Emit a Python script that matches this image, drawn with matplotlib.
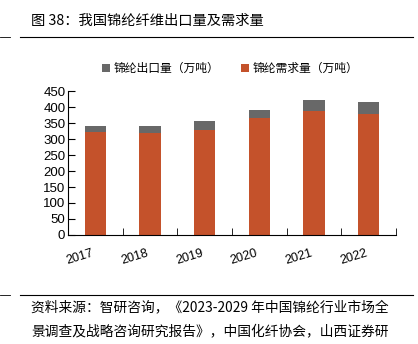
import matplotlib.pyplot as plt
import numpy as np

plt.rcParams['font.family'] = ['Liberation Sans', 'Noto Sans CJK SC', 'DejaVu Sans']

# data (万吨)
years = ["2017", "2018", "2019", "2020", "2021", "2022"]
demand = [323, 318, 330, 365, 388, 377]
export = [19, 22, 28, 25, 33, 38]

ORANGE = "#C4522B"
GRAY = "#686868"
cjk = ['Noto Sans CJK SC', 'DejaVu Sans']

fig = plt.figure(figsize=(4.18, 3.44), dpi=100)
ax = fig.add_axes([0.163, 0.317, 0.784, 0.418])

x = np.arange(len(years))
ax.bar(x, demand, width=0.39, color=ORANGE, label="锦纶需求量（万吨）", zorder=2)
ax.bar(x, export, width=0.39, bottom=demand, color=GRAY, label="锦纶出口量（万吨）", zorder=2)

ax.set_xlim(-0.5, len(years) - 0.5)
ax.set_ylim(0, 450)
ax.set_yticks(range(0, 451, 50))
ax.tick_params(axis='y', direction='in', length=5, labelsize=9.5, pad=2)
ax.set_xticks(x)
ax.set_xticklabels(years, rotation=17, fontsize=9, ha='right')
ax.tick_params(axis='x', length=0, pad=9)
ax.set_xticks(np.arange(-0.5, len(years)), minor=True)
ax.tick_params(axis='x', which='minor', direction='in', length=5)
for s in ["top", "right"]:
    ax.spines[s].set_visible(False)
ax.spines["left"].set_linewidth(0.8)
ax.spines["bottom"].set_linewidth(0.8)

h, l = ax.get_legend_handles_labels()
fig.legend(h[::-1], l[::-1], loc='center', bbox_to_anchor=(0.55, 0.80), ncol=2,
           frameon=False, prop={'family': cjk, 'size': 8.5},
           handlelength=0.7, handleheight=0.7, handletextpad=0.3, columnspacing=1.8)

# title, rules, source note
fig.text(0.074, 0.94, "图 38：我国锦纶纤维出口量及需求量", family=cjk, fontsize=10.3, va='center')
fig.add_artist(plt.Line2D([0.048, 0.988], [0.892, 0.892], color='black', lw=0.8))
fig.add_artist(plt.Line2D([0.0, 0.024], [0.892, 0.892], color='black', lw=0.6))
fig.add_artist(plt.Line2D([0.048, 0.988], [0.142, 0.142], color='black', lw=0.8))
fig.add_artist(plt.Line2D([0.0, 0.024], [0.142, 0.142], color='black', lw=0.6))
fig.text(0.074, 0.108, "资料来源：智研咨询，《2023-2029 年中国锦纶行业市场全", family=cjk, fontsize=9.9, va='center')
fig.text(0.074, 0.037, "景调查及战略咨询研究报告》，中国化纤协会，山西证券研", family=cjk, fontsize=9.9, va='center')

plt.savefig("out.png", dpi=100)
